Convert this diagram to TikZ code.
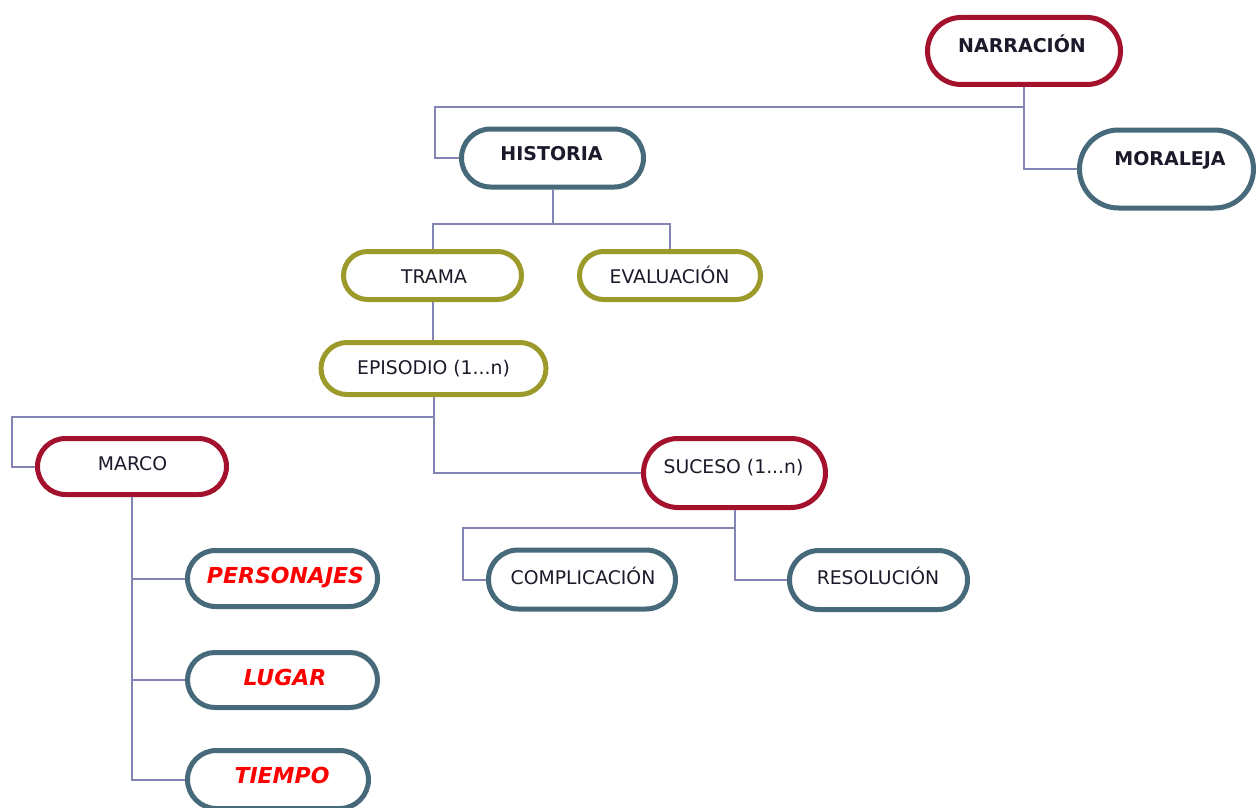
\documentclass[tikz,border=0pt]{standalone}
\usepackage{fontspec}
\setmainfont{DejaVu Sans}
\usetikzlibrary{shapes.misc}
\definecolor{cred}{HTML}{A3112D}
\definecolor{cblue}{HTML}{466A7A}
\definecolor{colive}{HTML}{9C9A2A}
\definecolor{cline}{HTML}{8585B5}
\definecolor{ctext}{HTML}{1A1A2A}
\begin{document}
\begin{tikzpicture}[x=1pt,y=-1pt,
  box/.style={rounded rectangle, draw, line width=5pt, fill=white, inner sep=0pt},
  redbox/.style={box, draw=cred},
  bluebox/.style={box, draw=cblue},
  olivebox/.style={box, draw=colive},
  conn/.style={draw=cline, line width=2pt},
  lbl/.style={anchor=base, inner sep=0pt, text=ctext, font=\fontsize{18.8}{21}\selectfont},
  blbl/.style={anchor=base, inner sep=0pt, text=ctext, font=\fontsize{19}{21}\selectfont\bfseries},
  rlbl/.style={anchor=base, inner sep=0pt, text=red, font=\fontsize{22}{24}\selectfont\bfseries\itshape}]
\useasboundingbox (0,0) rectangle (1256,808);

% boxes
\node[redbox, minimum width=193pt, minimum height=67pt] (narr) at (1024,51) {};
\node[bluebox, minimum width=174pt, minimum height=78pt] (mor) at (1166.5,169) {};
\node[bluebox, minimum width=182pt, minimum height=58pt] (hist) at (552.5,158) {};
\node[olivebox, minimum width=178pt, minimum height=48pt] (trama) at (432.5,275.5) {};
\node[olivebox, minimum width=181pt, minimum height=48pt] (eval) at (670,275.5) {};
\node[olivebox, minimum width=225pt, minimum height=52pt] (epi) at (433.5,368.5) {};
\node[redbox, minimum width=189pt, minimum height=56pt] (marco) at (132,466.5) {};
\node[redbox, minimum width=182pt, minimum height=69pt] (suc) at (734.5,473) {};
\node[bluebox, minimum width=190pt, minimum height=56pt] (pers) at (282.5,578.5) {};
\node[bluebox, minimum width=190pt, minimum height=55pt] (lug) at (282.5,680) {};
\node[bluebox, minimum width=181pt, minimum height=58pt] (tiem) at (278,779.5) {};
\node[bluebox, minimum width=187pt, minimum height=59pt] (comp) at (582,579.5) {};
\node[bluebox, minimum width=178pt, minimum height=59pt] (res) at (878.5,580) {};

% texts
\node[blbl] (narrT) at (1022,53) {NARRACIÓN};
\node[blbl] (morT) at (1170,165) {MORALEJA};
\node[blbl] (histT) at (551.5,160) {HISTORIA};
\node[lbl] (tramaT) at (434,283) {TRAMA};
\node[lbl] (evalT) at (669.5,283) {EVALUACIÓN};
\node[lbl] (epiT) at (433.5,374) {EPISODIO (1...n)};
\node[lbl] (marcoT) at (132.5,470) {MARCO};
\node[lbl] (sucT) at (733.5,473) {SUCESO (1...n)};
\node[rlbl] (persT) at (285.5,583) {PERSONAJES};
\node[rlbl] (lugT) at (285,685) {LUGAR};
\node[rlbl] (tiemT) at (282,783) {TIEMPO};
\node[lbl] (compT) at (583,584) {COMPLICACIÓN};
\node[lbl] (resT) at (878,584) {RESOLUCIÓN};

% junction points
\coordinate (j1) at (435,107);
\coordinate (j2) at (552.5,224);
\coordinate (j3) at (12,417);
\coordinate (j4) at (463,528);

% connectors
\draw[conn] (narr.south) |- (j1) |- (hist.west);
\draw[conn] (narr.south) |- (mor.west);
\draw[conn] (hist.south) -- (j2);
\draw[conn] (trama.north) |- (j2) -| (eval.north);
\draw[conn] (trama.south) -- (trama.south |- epi.north);
\draw[conn] (epi.south) |- (j3) |- (marco.west);
\draw[conn] (epi.south) |- (suc.west);
\draw[conn] (marco.south) |- (pers.west);
\draw[conn] (marco.south) |- (lug.west);
\draw[conn] (marco.south) |- (tiem.west);
\draw[conn] (suc.south) |- (j4) |- (comp.west);
\draw[conn] (suc.south) |- (res.west);
\end{tikzpicture}
\end{document}
